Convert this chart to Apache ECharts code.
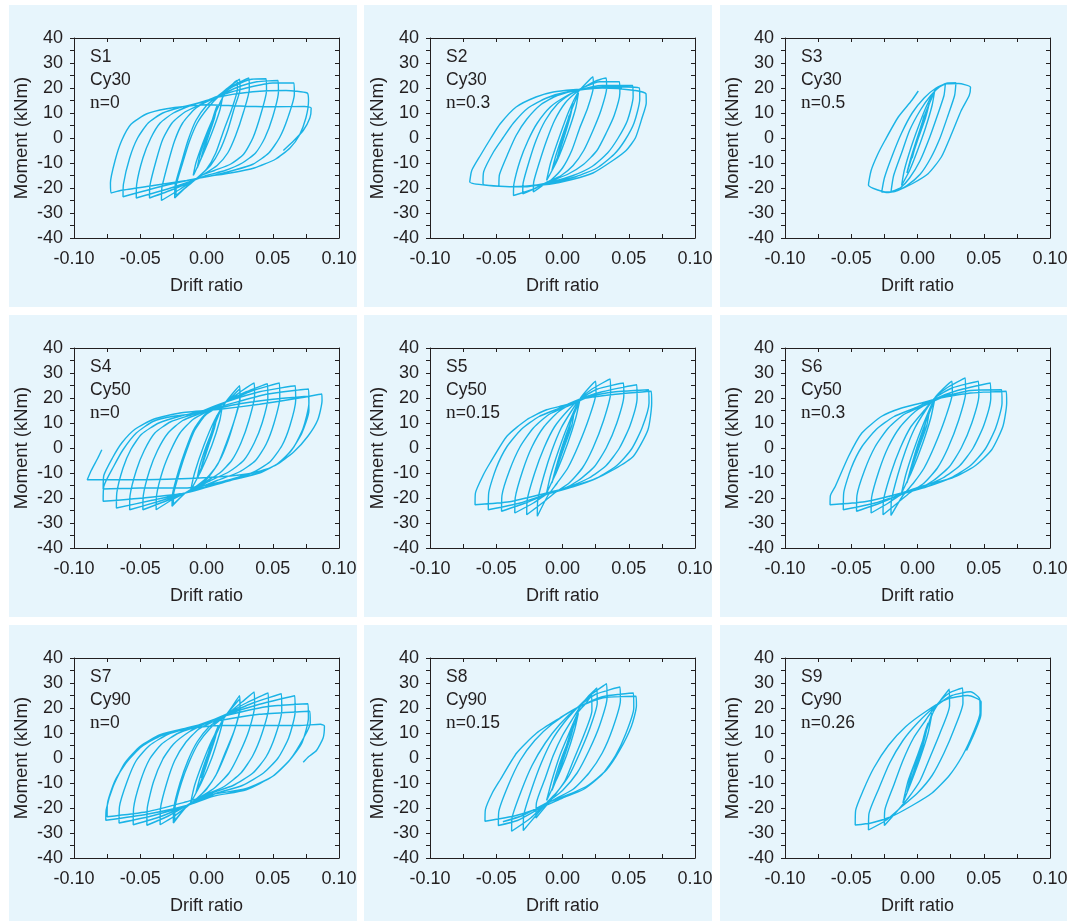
<!DOCTYPE html>
<html>
<head>
<meta charset="utf-8">
<script src="https://cdn.jsdelivr.net/npm/echarts@6/dist/echarts.min.js"></script>
<style>
html, body { margin: 0; padding: 0; background: #ffffff; }
#chart { width: 1067px; height: 921px; }
</style>
</head>
<body>
<div id="chart"></div>
<script>
// Specimen labels
const specimens = ['S1', 'S2', 'S3', 'S4', 'S5', 'S6', 'S7', 'S8', 'S9'];
const cycleLabels = ['Cy30', 'Cy30', 'Cy30', 'Cy50', 'Cy50', 'Cy50', 'Cy90', 'Cy90', 'Cy90'];
const axialRatios = ['0', '0.3', '0.5', '0', '0.15', '0.3', '0', '0.15', '0.26'];

// Axis ranges
const driftMin = -0.1, driftMax = 0.1, driftStep = 0.025;
const momentMin = -40, momentMax = 40, momentStep = 5;

// Hysteresis records: [drift ratio, moment (kNm)]
const s1 = [
  [0,0],[0.003,5],[0.005,8],[0.003,4],[-0.001,-3],[-0.004,-8],[-0.002,-4],[0.002,3],[0.006,10],[0.008,13],[0.006,8],[0.001,0],[-0.004,-8],[-0.007,-12],[-0.005,-7],[0.000,1],[0.005,8],[0.011,15],[0.012,16],
  [0.010,11],[0.004,2],[-0.003,-7],[-0.009,-14],[-0.010,-15],[-0.008,-10],[-0.002,-1],[0.005,8],[0.012,16],[0.013,17],
  [0.018,20.5],[0.023,23],
  [0.0233,19.5],[0.019,11.5],[0.013,3],[0.007,-6],[0.000,-12.5],[-0.008,-16.5],[-0.016,-20],[-0.024,-24],
  [-0.0237,-19],[-0.019,-10],[-0.014,-1],[-0.008,7],[0.000,13],[0.008,16.5],[0.016,20],[0.025,23.5],
  [0.0253,19.5],[0.021,12],[0.016,3],[0.010,-5],[0.003,-11],[-0.006,-15.5],[-0.014,-19],[-0.023,-23],
  [-0.0227,-18.5],[-0.018,-10],[-0.013,-1.5],[-0.007,6],[0.001,12],[0.009,16.5],[0.020,21],[0.032,24],
  [0.0323,19.5],[0.028,10.5],[0.022,1],[0.016,-6],[0.008,-11],[-0.002,-14.5],[-0.010,-17],[-0.020,-20.5],[-0.034,-25],
  [-0.0337,-20],[-0.029,-10],[-0.024,-1],[-0.018,6],[-0.009,11.5],[0.000,14.5],[0.008,16.5],[0.020,20.5],[0.034,23.5],[0.045,23.7],
  [0.0453,19],[0.041,9.5],[0.035,0],[0.028,-6.5],[0.018,-10.5],[0.006,-13],[-0.004,-15],[-0.010,-17],[-0.025,-20.5],[-0.043,-24],
  [-0.0427,-19],[-0.038,-9],[-0.033,-0.5],[-0.026,6],[-0.016,10.5],[-0.004,13.5],[0.008,16.5],[0.022,20],[0.038,22.5],[0.054,23],
  [0.0543,18.5],[0.050,8.5],[0.044,0],[0.037,-6],[0.027,-10],[0.014,-13],[0.000,-15],[-0.010,-17],[-0.030,-20.5],[-0.053,-24],
  [-0.0527,-18.5],[-0.048,-8],[-0.042,0],[-0.035,6],[-0.025,10],[-0.012,13],[0.000,15],[0.010,17],[0.030,20],[0.050,22],[0.066,22],
  [0.0663,17.5],[0.061,7.5],[0.055,0],[0.047,-6],[0.035,-10.5],[0.020,-13],[0.005,-15],[-0.010,-16.5],[-0.035,-19.5],[-0.063,-23.5],
  [-0.0627,-18.5],[-0.058,-8],[-0.052,0],[-0.044,6],[-0.033,10],[-0.018,12.5],[-0.002,14.5],[0.010,16.5],[0.035,18.5],[0.060,19],[0.076,18],
  [0.077,15],[0.075,8],[0.070,1],[0.063,-4],[0.052,-8.5],[0.036,-12],[0.018,-14],[0.000,-15.5],[-0.015,-17],[-0.040,-19],[-0.065,-21],[-0.072,-22],
  [-0.0725,-18],[-0.069,-9],[-0.064,-1],[-0.057,5.5],[-0.045,9.7],[-0.030,11.7],[-0.015,12.7],[0.000,13.3],[0.025,12.8],[0.050,12.5],[0.074,12.6],[0.079,12],
  [0.078,8],[0.073,3],[0.066,-1],[0.058,-5]
];

const s2 = [
  [0,0],[0.003,5],[0.005,9],[0.003,5],[-0.001,-2],[-0.004,-8],[-0.002,-4],[0.002,3],[0.006,10],[0.008,14],[0.006,9],[0.001,0],[-0.004,-8],[-0.008,-13],[-0.005,-7],[0.000,1],
  [0.006,10],[0.012,18],[0.010,12],[0.004,2],[-0.004,-9],[-0.012,-17],[-0.009,-10],[-0.002,1],[0.005,11],[0.012,18.5],
  [0.018,22],[0.023,24.5],
  [0.0233,20.5],[0.019,12],[0.013,4],[0.007,-5],[0.000,-12],[-0.008,-16.5],[-0.015,-19],[-0.022,-21.6],
  [-0.0217,-17.5],[-0.017,-9],[-0.012,-1],[-0.006,7],[0.002,14],[0.011,18.5],[0.020,21.5],[0.026,23],[0.033,24],
  [0.0333,20],[0.029,11],[0.023,3],[0.016,-5],[0.008,-11],[-0.001,-15],[-0.011,-17.5],[-0.020,-20],[-0.030,-22.3],
  [-0.0297,-18],[-0.025,-9],[-0.020,-1],[-0.013,7],[-0.004,13.5],[0.006,17.5],[0.015,20],[0.028,22.5],[0.043,22.5],
  [0.0433,18],[0.039,9],[0.033,2],[0.026,-5],[0.016,-10.5],[0.004,-14.5],[-0.010,-17.5],[-0.025,-21],[-0.037,-23],
  [-0.0367,-18.5],[-0.032,-9],[-0.026,-1],[-0.019,6],[-0.009,12.5],[0.002,16.5],[0.012,19],[0.030,21],[0.053,21],
  [0.0533,16.5],[0.049,7],[0.042,0],[0.034,-6],[0.022,-11.5],[0.008,-15],[-0.008,-17.5],[-0.028,-19.5],[-0.048,-19],
  [-0.0475,-14.5],[-0.041,-6],[-0.035,1],[-0.027,7.5],[-0.016,13.5],[-0.004,17],[0.010,19],[0.035,20.5],[0.058,20],
  [0.0583,15.5],[0.054,6],[0.047,-1],[0.039,-6.5],[0.026,-12],[0.010,-15.5],[-0.010,-18],[-0.035,-19.5],[-0.060,-18.3],
  [-0.0595,-13.5],[-0.052,-5.5],[-0.045,0],[-0.037,6],[-0.026,12],[-0.012,16],[0.004,18.5],[0.030,20],[0.055,19],[0.063,17.7],
  [0.0632,14],[0.060,8],[0.055,0],[0.048,-5],[0.038,-9],[0.023,-14],[0.008,-16.5],[-0.010,-18.5],[-0.040,-19.5],[-0.070,-17.6],
  [-0.0685,-13],[-0.062,-7],[-0.054,0],[-0.047,5.7],[-0.035,12.4],[-0.020,16.4],[-0.007,18.4],[0.008,19.3],[0.030,20],[0.045,20]
];

const s3 = [
  [0,0],[0.003,5],[0.005,9],[0.003,5],[-0.001,-2],[-0.004,-8],[-0.002,-4],[0.002,3],
  [0.005,8],[0.009,14],[0.006,8],[0.000,-1],[-0.005,-9],[-0.008,-14],[-0.005,-8],[0.001,2],[0.006,10],[0.010,15],[0.013,19],
  [0.011,13],[0.006,4],[0.000,-5],[-0.006,-13],[-0.012,-19],
  [-0.010,-13],[-0.005,-4],[0.001,5],[0.007,13],[0.014,19.5],[0.021,21.7],
  [0.020,17],[0.015,9],[0.009,0],[0.002,-9],[-0.006,-16],[-0.013,-20],[-0.020,-21.5],
  [-0.018,-15],[-0.012,-6],[-0.006,3],[0.002,11],[0.010,17],[0.018,21],[0.023,22],[0.029,22],
  [0.028,17],[0.023,9],[0.017,0],[0.010,-8],[0.002,-14.5],[-0.008,-19],[-0.018,-21.5],[-0.027,-21.6],
  [-0.025,-16],[-0.019,-7],[-0.012,2],[-0.004,10],[0.005,16],[0.014,20],[0.022,21.7],[0.031,21.8],[0.040,20.3],
  [0.039,17],[0.033,11],[0.026,2],[0.018,-7.6],[0.008,-14.3],[-0.004,-18.3],[-0.015,-21],[-0.022,-21.8],[-0.030,-20.8],[-0.037,-18.9],
  [-0.035,-13],[-0.030,-6.5],[-0.0245,-0.9],[-0.0145,8.4],[-0.0044,15],[0.0006,18.8]
];

const s4 = [
  [0,0],[0.003,5],[0.005,8],[0.003,4],[-0.001,-3],[-0.004,-8],[-0.002,-4],[0.002,3],[0.006,10],[0.008,13],[0.006,8],[0.001,0],[-0.004,-8],[-0.007,-12],[-0.005,-7],[0.000,1],
  [0.006,9],[0.012,17],[0.010,11],[0.004,1],[-0.004,-9],[-0.012,-17],[-0.009,-10],[-0.002,1],[0.006,11],[0.014,18],[0.020,22],[0.025,24.9],
  [0.0253,20.5],[0.021,11],[0.015,2],[0.009,-6],[0.001,-12],[-0.008,-15.5],[-0.016,-18],[-0.026,-23.3],
  [-0.0257,-18.5],[-0.021,-9],[-0.016,-1],[-0.010,7],[-0.002,13],[0.008,16.5],[0.016,19],[0.025,23.5],
  [0.0253,19.5],[0.021,11],[0.016,2.5],[0.010,-5],[0.002,-11],[-0.007,-15],[-0.016,-18],[-0.025,-22.5],
  [-0.0247,-18],[-0.020,-9],[-0.015,-1],[-0.009,7],[-0.001,13],[0.009,16.5],[0.018,19.5],[0.027,23],[0.036,26],
  [0.0363,21],[0.032,11],[0.026,2],[0.019,-5],[0.010,-10],[-0.001,-13.5],[-0.016,-18],[-0.027,-21],[-0.038,-24.7],
  [-0.0377,-19],[-0.033,-9],[-0.027,-1],[-0.020,6],[-0.010,11.5],[0.002,15],[0.015,18.5],[0.030,22.5],[0.046,25.7],
  [0.0463,20],[0.042,10],[0.036,2],[0.028,-5],[0.017,-9.5],[0.003,-13],[-0.016,-18],[-0.032,-21.5],[-0.048,-24.7],
  [-0.0477,-19],[-0.043,-9],[-0.037,-1],[-0.029,6],[-0.018,11],[-0.004,14],[0.015,18.5],[0.035,23],[0.055,26],
  [0.0553,20],[0.051,10],[0.045,1.5],[0.037,-5],[0.025,-9.5],[0.008,-13],[-0.016,-18],[-0.037,-21.5],[-0.058,-24.7],
  [-0.0577,-19],[-0.053,-9],[-0.047,-1],[-0.039,6],[-0.027,10.5],[-0.010,13.5],[0.015,18.5],[0.040,22.5],[0.067,24.9],
  [0.0673,19],[0.063,9],[0.057,1],[0.048,-5.5],[0.034,-10],[0.015,-13],[-0.016,-18],[-0.042,-21],[-0.068,-24],
  [-0.0677,-18],[-0.063,-8],[-0.057,-0.5],[-0.049,5.5],[-0.036,10],[-0.018,13],[0.010,16.5],[0.045,21.5],[0.077,23.6],
  [0.0773,18],[0.073,8],[0.066,0.5],[0.056,-5.5],[0.040,-10],[0.018,-13],[-0.016,-18],[-0.048,-20],[-0.078,-21.3],
  [-0.0775,-15.3],[-0.070,-7.3],[-0.063,-0.7],[-0.053,6],[-0.040,10.7],[-0.025,12.7],[-0.005,14],[0.018,17],[0.050,19.5],[0.077,20.7],
  [0.0773,15],[0.072,6],[0.064,-1],[0.053,-6.5],[0.036,-10.5],[0.012,-13.5],[-0.016,-16],[-0.050,-16],[-0.078,-16.4],
  [-0.0775,-11],[-0.071,-4],[-0.064,2],[-0.054,7.5],[-0.040,11.5],[-0.020,14],[0.010,15.5],[0.040,17.5],[0.070,20],[0.087,21.6],
  [0.0872,19],[0.084,11.3],[0.0765,4.7],[0.066,-1.5],[0.052,-7],[0.035,-10],[0.010,-11.5],[-0.030,-12.5],[-0.070,-12.7],[-0.090,-12.7],
  [-0.087,-9],[-0.082,-4],[-0.079,-0.7]
];

const s5 = [
  [0,0],[0.003,5],[0.006,10],[0.004,5],[-0.001,-3],[-0.005,-9],[-0.002,-4],[0.002,3],[0.006,10],[0.009,15],[0.007,9],[0.001,0],[-0.005,-9],[-0.008,-14],[-0.005,-8],[0.000,1],
  [0.006,10],[0.013,19],[0.010,12],[0.004,2],[-0.004,-9],[-0.012,-18],[-0.009,-11],[-0.003,-1],[0.004,9],[0.013,19.5],[0.019,23.5],[0.025,26.7],
  [0.0253,22],[0.020,12],[0.012,1],[0.004,-8],[-0.004,-14],[-0.011,-19],[-0.019,-27.3],
  [-0.0187,-21],[-0.014,-11],[-0.008,-1],[-0.001,8],[0.007,15],[0.013,19.5],[0.022,23.5],[0.036,27.6],
  [0.0363,22],[0.031,11],[0.023,0],[0.015,-8],[0.005,-14],[-0.006,-18],[-0.014,-21.5],[-0.027,-26.7],
  [-0.0267,-21],[-0.021,-10],[-0.014,0],[-0.006,8.5],[0.004,15],[0.013,19.5],[0.026,23.5],[0.046,26],
  [0.0463,21],[0.041,10],[0.033,0],[0.024,-7.5],[0.012,-13],[0.000,-16.5],[-0.012,-18.5],[-0.022,-22],[-0.036,-26],
  [-0.0357,-20],[-0.030,-9],[-0.023,0.5],[-0.014,8.5],[-0.003,14.5],[0.013,19.5],[0.030,22.5],[0.056,25.3],
  [0.0563,20],[0.051,9],[0.043,0],[0.033,-7],[0.020,-12],[0.005,-15.5],[-0.012,-18.5],[-0.028,-22],[-0.046,-25.3],
  [-0.0457,-19],[-0.040,-9],[-0.032,0.5],[-0.022,8],[-0.010,13.5],[0.005,17],[0.020,20.5],[0.040,22.5],[0.065,23.3],
  [0.0653,18],[0.060,8],[0.052,-0.5],[0.041,-7],[0.026,-12],[0.008,-15.5],[-0.012,-18.5],[-0.032,-22],[-0.056,-24.7],
  [-0.0557,-18],[-0.050,-8],[-0.042,0.5],[-0.031,7.5],[-0.018,12.5],[-0.002,16],[0.013,19.5],[0.040,21.5],[0.067,22.7],
  [0.0673,18],[0.0645,7.3],[0.0535,-3.3],[0.0384,-8.7],[0.023,-12.7],[0.003,-16],[-0.012,-18],[-0.040,-21.5],[-0.066,-22.7],
  [-0.0657,-18],[-0.060,-11],[-0.0547,-6],[-0.042,4.7],[-0.027,11.3],[-0.012,15.3],[0.003,17.3],[0.013,19.5],[0.025,21]
];

const s6 = [
  [0,0],[0.003,5],[0.006,10],[0.004,5],[-0.001,-3],[-0.005,-9],[-0.002,-4],[0.002,3],[0.006,10],[0.009,15],[0.007,9],[0.001,0],[-0.005,-9],[-0.008,-14],[-0.005,-8],[0.000,1],
  [0.006,10],[0.013,19.5],[0.010,12],[0.004,2],[-0.004,-9],[-0.012,-18],[-0.009,-11],[-0.003,-1],[0.004,9],[0.013,20],[0.019,23.5],[0.026,26.7],
  [0.0263,22],[0.021,12],[0.013,1],[0.005,-8],[-0.003,-14],[-0.011,-19],[-0.020,-27],
  [-0.0197,-21],[-0.015,-11],[-0.009,-1],[-0.002,8],[0.006,15],[0.013,20],[0.022,24],[0.036,28],
  [0.0363,22],[0.031,11],[0.023,0],[0.015,-8],[0.005,-14],[-0.006,-18],[-0.014,-21.5],[-0.026,-26.7],
  [-0.0257,-21],[-0.020,-10],[-0.013,0],[-0.005,8.5],[0.005,15],[0.013,20],[0.026,24],[0.046,26.7],
  [0.0463,21],[0.041,10],[0.033,0],[0.024,-7.5],[0.012,-13],[0.000,-16.5],[-0.012,-18.5],[-0.022,-22],[-0.035,-26],
  [-0.0347,-20],[-0.029,-9],[-0.022,0.5],[-0.013,8.5],[-0.002,14.5],[0.013,19.5],[0.030,23],[0.055,26],
  [0.0553,20],[0.050,9],[0.042,0],[0.032,-7],[0.019,-12],[0.004,-15.5],[-0.012,-18.5],[-0.028,-22],[-0.046,-25.3],
  [-0.0457,-19],[-0.040,-9],[-0.032,0.5],[-0.022,8],[-0.010,13.5],[0.005,17],[0.020,20.5],[0.040,23],[0.0635,23.3],
  [0.0638,18],[0.059,8],[0.051,-0.5],[0.040,-7],[0.025,-12],[0.007,-15.5],[-0.012,-18.5],[-0.032,-22],[-0.056,-24.7],
  [-0.0557,-18],[-0.050,-8],[-0.042,0.5],[-0.031,7.5],[-0.018,12.5],[-0.002,16],[0.013,19.5],[0.040,22],[0.067,22.7],
  [0.0673,18],[0.0645,8.7],[0.056,-0.7],[0.043,-7.3],[0.026,-12],[0.003,-15.3],[-0.012,-18],[-0.040,-21.5],[-0.066,-22.7],
  [-0.0657,-19],[-0.062,-15.3],[-0.052,-3.3],[-0.042,6],[-0.027,12.7],[-0.012,16],[0.003,18],[0.013,19.5],[0.025,21.5]
];

const s7 = [
  [0,0],[0.003,4],[0.005,8],[0.003,4],[-0.001,-3],[-0.004,-8],[-0.002,-4],[0.002,3],[0.006,9],[0.009,13],[0.006,7],[0.001,-1],[-0.004,-9],[-0.008,-14],[-0.005,-8],[0.000,0],
  [0.006,8],[0.013,16],[0.010,10],[0.004,0],[-0.004,-10],[-0.012,-18],[-0.009,-11],[-0.003,-2],[0.004,7],[0.012,15],[0.018,19.5],[0.025,24.9],
  [0.0253,20.5],[0.021,11],[0.014,2],[0.007,-7],[-0.002,-13.5],[-0.010,-17.5],[-0.016,-20],[-0.025,-26],
  [-0.0247,-20],[-0.020,-10],[-0.014,-1],[-0.007,6.5],[0.002,12.5],[0.010,15.5],[0.016,18],[0.025,23.5],
  [0.0253,19.5],[0.021,11],[0.015,2.5],[0.008,-6],[0.000,-12.5],[-0.009,-17],[-0.016,-20],[-0.024,-25],
  [-0.0237,-19.5],[-0.019,-10],[-0.013,-1.5],[-0.006,6],[0.003,12],[0.011,15.5],[0.018,18.5],[0.027,22.5],[0.036,26.4],
  [0.0363,21],[0.032,11],[0.025,2],[0.017,-6],[0.006,-12],[-0.006,-16],[-0.015,-19.5],[-0.025,-23.5],[-0.035,-26.7],
  [-0.0347,-20],[-0.030,-10],[-0.024,-1],[-0.016,6],[-0.006,11.5],[0.005,14.5],[0.015,17.5],[0.030,22],[0.0465,26],
  [0.0468,20],[0.042,10],[0.035,1],[0.026,-6],[0.013,-11.5],[0.000,-14.5],[-0.015,-19],[-0.030,-23.5],[-0.045,-26.9],
  [-0.0447,-20],[-0.040,-9.5],[-0.033,-0.5],[-0.025,5.5],[-0.013,10.5],[0.000,14],[0.015,17.5],[0.035,22],[0.0565,25.7],
  [0.0568,19],[0.052,9],[0.045,0.5],[0.035,-6],[0.020,-11],[0.004,-14],[-0.015,-19],[-0.035,-23.5],[-0.0553,-26.7],
  [-0.055,-20],[-0.050,-9.5],[-0.043,-0.5],[-0.034,5.5],[-0.021,10],[-0.005,13],[0.015,17.3],[0.040,21.5],[0.0666,24.9],
  [0.0669,18.5],[0.062,8],[0.054,0],[0.043,-6],[0.027,-11],[0.008,-14],[-0.015,-19],[-0.040,-23],[-0.066,-26],
  [-0.0657,-19.5],[-0.060,-9.5],[-0.053,-1],[-0.043,5],[-0.029,9.5],[-0.010,12.5],[0.015,17],[0.045,20.5],[0.0766,21.7],
  [0.0769,16],[0.072,6],[0.063,-0.7],[0.050,-7.3],[0.030,-12.7],[0.005,-15.3],[-0.015,-19],[-0.045,-22.5],[-0.076,-24.9],
  [-0.0757,-20.7],[-0.0704,-11.3],[-0.0616,-2],[-0.050,4.7],[-0.035,9.3],[-0.015,12],[0.010,15],[0.040,17.5],[0.070,18.5],[0.078,18.7],
  [0.0783,14],[0.074,8.7],[0.063,-0.7],[0.050,-7.3],[0.030,-12.2],[0.005,-14.5],[-0.015,-17.5],[-0.045,-21.5],[-0.075,-23.5],
  [-0.0747,-18],[-0.069,-9],[-0.060,-1.5],[-0.049,4.5],[-0.034,9],[-0.015,11.5],[0.010,13],[0.040,13],[0.070,13],[0.086,13.5],[0.089,12.8],
  [0.088,8],[0.083,3],[0.077,0.5],[0.073,-1.7]
];

const s8 = [
  [0,0],[0.003,5],[0.006,10],[0.004,5],[-0.001,-3],[-0.005,-9],[-0.002,-4],[0.002,3],[0.006,10],[0.009,14],[0.006,8],[0.000,-1],[-0.005,-9],[-0.008,-13],[-0.005,-7],[0.000,1],
  [0.006,9],[0.012,18],[0.009,11],[0.003,1],[-0.004,-8],[-0.012,-17],[-0.008,-9],[-0.002,1],[0.005,10],[0.012,18.5],[0.017,21.5],[0.022,25],
  [0.0222,19],[0.016,9],[0.009,0],[0.002,-9],[-0.006,-15],[-0.013,-19.5],[-0.020,-24],
  [-0.0197,-18],[-0.013,-8],[-0.007,1],[0.000,9],[0.008,16],[0.014,21],[0.020,25],[0.026,28],
  [0.0262,22],[0.020,11],[0.013,2],[0.005,-7],[-0.004,-13.5],[-0.012,-18],[-0.020,-23],[-0.0296,-29],
  [-0.0293,-23],[-0.023,-12],[-0.016,-2],[-0.008,7],[0.001,14],[0.011,20],[0.022,25.5],[0.0333,29.7],
  [0.0336,24],[0.028,13],[0.020,3],[0.011,-6],[0.000,-13],[-0.012,-18],[-0.024,-24],[-0.0384,-29.3],
  [-0.0381,-24],[-0.031,-13],[-0.023,-3],[-0.013,6],[-0.002,13.5],[0.0107,20],[0.025,25.5],[0.0434,28.4],
  [0.0437,23],[0.038,12],[0.030,2],[0.020,-6],[0.008,-12.5],[-0.006,-16.5],[-0.020,-21],[-0.034,-25],[-0.0484,-27],
  [-0.0481,-21.5],[-0.041,-11],[-0.032,-1],[-0.021,7],[-0.008,13.5],[0.0107,20],[0.030,24.5],[0.0535,26],
  [0.0538,20],[0.048,10],[0.040,1],[0.030,-6.5],[0.016,-12.5],[0.000,-16],[-0.015,-19.5],[-0.035,-23],[-0.0585,-25.3],
  [-0.0582,-20.7],[-0.053,-14],[-0.047,-8.7],[-0.0346,2],[-0.0195,10],[-0.002,16],[0.0107,20],[0.030,24],[0.0555,24.7],
  [0.0558,21],[0.052,12.7],[0.0434,3.3],[0.0333,-4.7],[0.0182,-11.3],[-0.0019,-16],[-0.012,-18],[-0.030,-23],[-0.045,-25.5]
];

const s9 = [
  [0,0],[0.003,5],[0.006,10],[0.004,5],[-0.001,-3],[-0.005,-10],[-0.002,-4],[0.002,3],[0.006,11],[0.008,14],[0.005,7],[0.000,-1],[-0.005,-9],[-0.008,-14],[-0.005,-7],[0.000,1],
  [0.006,10],[0.011,18],[0.008,10],[0.002,0],[-0.005,-10],[-0.011,-18],[-0.007,-9],[0.000,1],[0.006,10],[0.012,18.5],[0.018,23.5],[0.024,27.5],
  [0.0242,21],[0.017,10],[0.010,1],[0.002,-9],[-0.007,-16],[-0.015,-21],[-0.025,-27],
  [-0.0247,-21],[-0.018,-11],[-0.011,-1],[-0.003,8],[0.006,15],[0.014,21],[0.024,26],[0.034,28],
  [0.0343,22],[0.028,12],[0.020,2],[0.011,-7],[0.000,-14],[-0.012,-19.5],[-0.024,-25],[-0.037,-28.8],
  [-0.0367,-22.5],[-0.029,-12],[-0.021,-2],[-0.011,7],[0.000,14],[0.012,20],[0.026,25],[0.040,26.5],[0.047,23.5],
  [0.0472,18],[0.042,10],[0.034,1],[0.024,-7],[0.011,-14],[-0.004,-19],[-0.020,-23.5],[-0.035,-26],[-0.047,-26.8],
  [-0.0467,-21],[-0.041,-13],[-0.033,-4],[-0.022,5],[-0.009,12.5],[0.006,18.5],[0.022,23.5],[0.038,25],[0.048,22.5],
  [0.0478,17],[0.043,10],[0.037,3]
];

const records = [s1, s2, s3, s4, s5, s6, s7, s8, s9];

// Page layout (pixels)
const panelX = [9, 364, 720], panelW = [348, 348, 347];
const panelY = [5, 315, 625], panelH = [302, 302, 296];
const plotLeft = [74, 430, 785], plotTop = [38, 348, 658];
const plotW = 265, plotH = 200;

const ink = '#231f20';
const lineColor = '#1ab3e6';
const panelColor = '#e7f5fc';
const sans = '"Liberation Sans", Arial, sans-serif';
const serif = '"Liberation Serif", "Times New Roman", serif';

const grids = [], xAxes = [], yAxes = [], series = [], graphics = [];

records.forEach((rec, i) => {
  const r = Math.floor(i / 3), c = i % 3;
  graphics.push({
    type: 'rect', z: -10, silent: true,
    shape: { x: panelX[c], y: panelY[r], width: panelW[c], height: panelH[r] },
    style: { fill: panelColor }
  });
  graphics.push({
    type: 'text', z: 10, silent: true,
    left: plotLeft[c] + 16, top: plotTop[r] + 10,
    style: {
      text: '{a|' + specimens[i] + '}\n{a|' + cycleLabels[i] + '}\n{b|n}{a|=' + axialRatios[i] + '}',
      rich: {
        a: { fontSize: 17.5, fontFamily: sans, fill: ink, lineHeight: 23 },
        b: { fontSize: 19.5, fontFamily: serif, fill: ink, lineHeight: 23 }
      }
    }
  });

  grids.push({ left: plotLeft[c], top: plotTop[r], width: plotW, height: plotH, containLabel: false, outerBoundsMode: 'none', show: false });

  const frame = { show: true, onZero: false, lineStyle: { color: ink, width: 1 } };
  xAxes.push({
    type: 'value', gridIndex: i, position: 'bottom',
    min: driftMin, max: driftMax, interval: driftStep,
    axisLine: frame,
    axisTick: { show: true, inside: true, length: 4, lineStyle: { color: ink } },
    splitLine: { show: false },
    axisLabel: {
      show: true, margin: 12, color: ink, fontSize: 18, fontFamily: sans,
      showMinLabel: true, showMaxLabel: true,
      formatter: v => (Math.round(v / driftStep) % 2 === 0 ? v.toFixed(2) : '')
    },
    name: 'Drift ratio', nameLocation: 'middle', nameGap: 39,
    nameTextStyle: { color: ink, fontSize: 18, fontFamily: sans }
  });
  xAxes.push({
    type: 'value', gridIndex: i, position: 'top',
    min: driftMin, max: driftMax, interval: driftStep,
    axisLine: frame,
    axisTick: { show: true, inside: true, length: 4, lineStyle: { color: ink } },
    splitLine: { show: false }, axisLabel: { show: false }
  });
  yAxes.push({
    type: 'value', gridIndex: i, position: 'left',
    min: momentMin, max: momentMax, interval: momentStep,
    axisLine: frame,
    axisTick: { show: true, inside: false, length: 4, lineStyle: { color: ink } },
    splitLine: { show: false },
    axisLabel: {
      show: true, margin: 11, color: ink, fontSize: 18, fontFamily: sans,
      showMinLabel: true, showMaxLabel: true,
      formatter: v => (Math.round(v / momentStep) % 2 === 0 ? String(Math.round(v)) : '')
    },
    name: 'Moment (kNm)', nameLocation: 'middle', nameGap: 43, nameRotate: 90,
    nameTextStyle: { color: ink, fontSize: 18.5, fontFamily: sans }
  });
  yAxes.push({
    type: 'value', gridIndex: i, position: 'right',
    min: momentMin, max: momentMax, interval: momentStep,
    axisLine: frame,
    axisTick: { show: true, inside: true, length: 4, lineStyle: { color: ink } },
    splitLine: { show: false }, axisLabel: { show: false }
  });

  series.push({
    type: 'line', xAxisIndex: i * 2, yAxisIndex: i * 2,
    data: rec, showSymbol: false, symbol: 'none', smooth: 0.2,
    lineStyle: { color: lineColor, width: 1.4 }, silent: true, z: 3
  });
});

const chart = echarts.init(document.getElementById('chart'), null, { renderer: 'canvas' });
chart.setOption({
  animation: false,
  backgroundColor: '#ffffff',
  grid: grids, xAxis: xAxes, yAxis: yAxes, series: series,
  graphic: { elements: graphics }
});
</script>
</body>
</html>
